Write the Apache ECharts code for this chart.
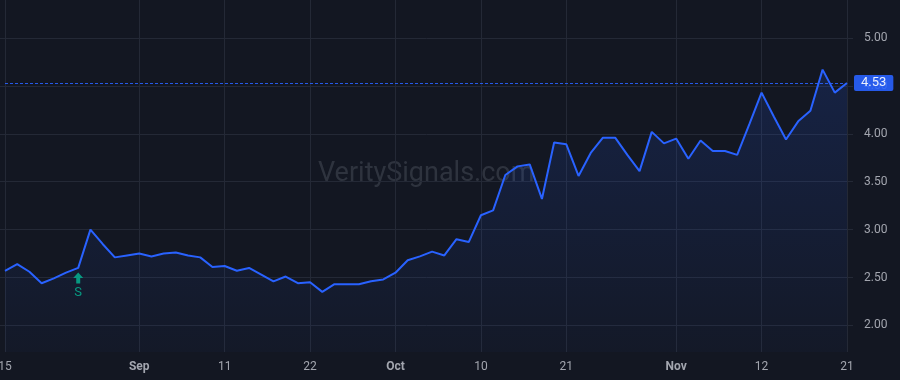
<!DOCTYPE html>
<html>
<head>
<meta charset="utf-8">
<style>
  html, body { margin: 0; padding: 0; background: #131722; }
  #chart { width: 900px; height: 380px; }
</style>
<script src="https://cdn.jsdelivr.net/npm/echarts@6/dist/echarts.min.js"></script>
</head>
<body>
<div id="chart"></div>
<script>
// trading days (weekdays, Labor Day skipped)
const dates = [
  '2025-08-15', '2025-08-18', '2025-08-19', '2025-08-20', '2025-08-21', '2025-08-22',
  '2025-08-25', '2025-08-26', '2025-08-27', '2025-08-28', '2025-08-29',
  '2025-09-02', '2025-09-03', '2025-09-04', '2025-09-05',
  '2025-09-08', '2025-09-09', '2025-09-10', '2025-09-11', '2025-09-12',
  '2025-09-15', '2025-09-16', '2025-09-17', '2025-09-18', '2025-09-19',
  '2025-09-22', '2025-09-23', '2025-09-24', '2025-09-25', '2025-09-26',
  '2025-09-29', '2025-09-30', '2025-10-01', '2025-10-02', '2025-10-03',
  '2025-10-06', '2025-10-07', '2025-10-08', '2025-10-09', '2025-10-10',
  '2025-10-13', '2025-10-14', '2025-10-15', '2025-10-16', '2025-10-17',
  '2025-10-20', '2025-10-21', '2025-10-22', '2025-10-23', '2025-10-24',
  '2025-10-27', '2025-10-28', '2025-10-29', '2025-10-30', '2025-10-31',
  '2025-11-03', '2025-11-04', '2025-11-05', '2025-11-06', '2025-11-07',
  '2025-11-10', '2025-11-11', '2025-11-12', '2025-11-13', '2025-11-14',
  '2025-11-17', '2025-11-18', '2025-11-19', '2025-11-20', '2025-11-21'
];

// closing prices
const prices = [
  2.57, 2.64, 2.56, 2.44, 2.49, 2.55,
  2.60, 3.00, 2.85, 2.71, 2.73,
  2.75, 2.72, 2.75, 2.76,
  2.73, 2.71, 2.61, 2.62, 2.57,
  2.60, 2.53, 2.46, 2.51, 2.44,
  2.45, 2.35, 2.43, 2.43, 2.43,
  2.46, 2.48, 2.55, 2.68, 2.72,
  2.77, 2.73, 2.90, 2.87, 3.15,
  3.20, 3.57, 3.66, 3.68, 3.32,
  3.91, 3.89, 3.56, 3.80, 3.96,
  3.96, 3.78, 3.61, 4.02, 3.90,
  3.95, 3.74, 3.93, 3.82, 3.82,
  3.78, 4.10, 4.43, 4.18, 3.94,
  4.13, 4.24, 4.67, 4.43, 4.53
];

// x axis tick labels
const tickDates = ['2025-08-15', '2025-09-02', '2025-09-11', '2025-09-22', '2025-10-01',
                   '2025-10-10', '2025-10-21', '2025-11-03', '2025-11-12', '2025-11-21'];
const tickLabels = ['15', 'Sep', '11', '22', 'Oct', '10', '21', 'Nov', '12', '21'];
const monthLabels = ['Sep', 'Oct', 'Nov'];

// signal marker
const signalDate = '2025-08-25';
const signalText = 'S';

const lastPrice = prices[prices.length - 1];

const blue = '#2962ff';
const green = '#089981';
const textColor = '#a3a6af';
const gridColor = '#242936';
const font = 'Roboto';

function isTick(idx) {
  return tickDates.indexOf(dates[idx]) >= 0;
}

let chart = echarts.init(document.getElementById('chart'));

let option = {
  backgroundColor: '#131722',
  animation: false,
  textStyle: { fontFamily: font },
  grid: [
    // data grid
    { left: 5, right: 53, top: 0, bottom: 28, outerBoundsMode: 'none', containLabel: false },
    // price scale grid (horizontal lines + labels)
    { left: 0, right: 47, top: -9.9, bottom: 6.7, outerBoundsMode: 'none', containLabel: false }
  ],
  xAxis: [
    {
      type: 'category',
      gridIndex: 0,
      data: dates,
      boundaryGap: false,
      axisLine: { show: false },
      axisTick: { show: false },
      axisLabel: {
        interval: (idx) => isTick(idx),
        margin: 9,
        fontSize: 12,
        color: textColor,
        formatter: (val) => {
          let t = tickLabels[tickDates.indexOf(val)];
          if (monthLabels.indexOf(t) >= 0) return '{b|' + t + '}';
          return t;
        },
        rich: { b: { fontWeight: 'bold', fontSize: 12, color: textColor, fontFamily: font } }
      },
      splitLine: {
        show: true,
        interval: (idx) => isTick(idx),
        lineStyle: { color: gridColor, width: 1 }
      }
    },
    { type: 'value', gridIndex: 1, show: false, min: 0, max: 1 }
  ],
  yAxis: [
    {
      type: 'value',
      gridIndex: 0,
      min: 1.722,
      max: 5.397,
      show: false,
      splitLine: { show: false }
    },
    {
      type: 'value',
      gridIndex: 1,
      position: 'right',
      min: 1.5,
      max: 5.5,
      interval: 0.5,
      axisLine: { show: false },
      axisTick: { show: false },
      axisLabel: {
        margin: 11,
        fontSize: 12,
        color: textColor,
        showMinLabel: false,
        showMaxLabel: false,
        formatter: (v) => v.toFixed(2)
      },
      splitLine: {
        show: true,
        showMinLine: false,
        showMaxLine: false,
        lineStyle: { color: gridColor, width: 1 }
      }
    }
  ],
  graphic: [
    {
      type: 'text',
      left: 318,
      top: 161,
      z: 0,
      style: {
        text: 'VeritySignals.com',
        fill: 'rgba(120,124,136,0.28)',
        font: '27px Roboto'
      }
    }
  ],
  series: [
    {
      type: 'line',
      xAxisIndex: 0,
      yAxisIndex: 0,
      data: prices,
      showSymbol: false,
      lineStyle: { color: blue, width: 2 },
      itemStyle: { color: blue },
      areaStyle: {
        color: new echarts.graphic.LinearGradient(0, 0, 0, 1, [
          { offset: 0, color: 'rgba(41,98,255,0.22)' },
          { offset: 1, color: 'rgba(41,98,255,0.04)' }
        ])
      },
      markLine: {
        silent: true,
        symbol: 'none',
        lineStyle: { color: blue, type: [3, 2], width: 1, opacity: 0.9 },
        label: {
          position: 'end',
          distance: 7,
          formatter: lastPrice.toFixed(2),
          color: '#ffffff',
          backgroundColor: blue,
          padding: [2, 7, 1, 7],
          borderRadius: 2,
          fontSize: 13,
          fontFamily: font
        },
        data: [{ yAxis: lastPrice }]
      },
      markPoint: {
        silent: true,
        data: [
          {
            coord: [signalDate, prices[dates.indexOf(signalDate)]],
            symbol: 'path://M5,0 L10,5 L7,5 L7,10 L3,10 L3,5 L0,5 Z',
            symbolSize: [10, 11],
            symbolOffset: [0, 10],
            itemStyle: { color: green },
            label: {
              show: true,
              formatter: signalText,
              position: 'bottom',
              distance: 3,
              color: green,
              fontSize: 13,
              fontFamily: font
            }
          }
        ]
      }
    }
  ]
};

chart.setOption(option);
</script>
</body>
</html>
